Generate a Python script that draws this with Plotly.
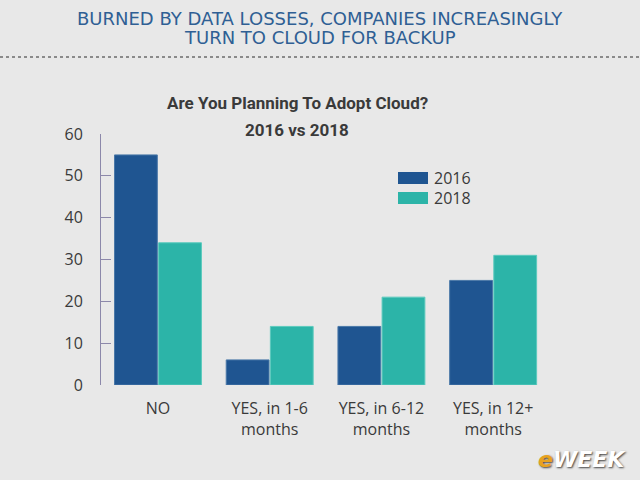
import plotly.graph_objects as go

categories = ["NO", "YES, in 1-6<br>months", "YES, in 6-12<br>months", "YES, in 12+<br>months"]
series_names = ["2016", "2018"]
vals_2016 = [55, 6, 14, 25]
vals_2018 = [34, 14, 21, 31]
y_ticks = [0, 10, 20, 30, 40, 50, 60]
colors = ["#1f5591", "#2cb4a8"]

L, R, T, B = 101, 91, 134, 95
PW, PH = 640 - L - R, 480 - T - B

def px(x):
    return (x - L) / PW

def py(y):
    return (480 - B - y) / PH

fig = go.Figure()
for name, vals, c, lc in zip(series_names, [vals_2016, vals_2018], colors, ["#4a78a8", "#5ccabe"]):
    fig.add_trace(go.Bar(x=categories, y=vals, name=name, showlegend=False,
                         marker=dict(color=c, line=dict(color=lc, width=1))))

fig.update_layout(
    width=640, height=480,
    margin=dict(l=L, r=R, t=T, b=B),
    paper_bgcolor="#e8e8e8", plot_bgcolor="rgba(0,0,0,0)",
    barmode="group", bargap=0.21, bargroupgap=0.03,
    font=dict(family="Open Sans", color="#333333"),
)
fig.update_xaxes(showline=False, ticks="", range=[-0.51, 3.5],
                 tickfont=dict(family="Open Sans", size=16, color="#3a3a3a"),
                 showgrid=False, ticklabelstandoff=12)
fig.update_yaxes(range=[0, 60], tickvals=y_ticks, showgrid=False, zeroline=False,
                 showline=True, linecolor="#8c88aa", linewidth=1,
                 ticks="inside", ticklen=10, tickcolor="#8c88aa",
                 tickfont=dict(family="Open Sans", size=16, color="#3a3a3a"), ticklabelstandoff=14)

# Header
for txt, yy in [("BURNED BY DATA LOSSES, COMPANIES INCREASINGLY", 19), ("TURN TO CLOUD FOR BACKUP", 38)]:
    fig.add_annotation(xref="paper", yref="paper", x=px(320), y=py(yy), xanchor="center", yanchor="middle",
                       text=txt, showarrow=False,
                       font=dict(family="DejaVu Sans", size=18, color="#2f5f94"))
fig.add_shape(type="line", xref="paper", yref="paper", x0=px(0), x1=px(640),
              y0=py(57), y1=py(57), line=dict(color="#8a8a8a", width=2, dash="dot"))
# Chart title
fig.add_annotation(xref="paper", yref="paper", x=px(297), y=py(103), xanchor="center", yanchor="middle",
                   text="<b>Are You Planning To Adopt Cloud?</b>",
                   showarrow=False, font=dict(family="Roboto", size=17, color="#3a3a3a"))
fig.add_annotation(xref="paper", yref="paper", x=px(297), y=py(130), xanchor="center", yanchor="middle",
                   text="<b>2016 vs 2018</b>",
                   showarrow=False, font=dict(family="Roboto", size=17, color="#3a3a3a"))
# Legend
for i, (name, c) in enumerate(zip(series_names, colors)):
    yc = 178 + 20 * i
    fig.add_shape(type="rect", xref="paper", yref="paper", x0=px(398), x1=px(428),
                  y0=py(yc + 6), y1=py(yc - 6), fillcolor=c, line=dict(width=0))
    fig.add_annotation(xref="paper", yref="paper", x=px(432), y=py(yc), xanchor="left", yanchor="middle",
                       text=name, showarrow=False, font=dict(family="Open Sans", size=16, color="#3a3a3a"))
# Logo
fig.add_annotation(xref="paper", yref="paper", x=px(628), y=py(459), xanchor="right", yanchor="middle",
                   text="<b><i><span style='color:#e8a21e'>e</span>WEEK</i></b>",
                   showarrow=False, font=dict(family="DejaVu Sans", size=22, color="#ffffff",
                                              shadow="1px 1px 2px #444"))

fig.write_html("out.html")
